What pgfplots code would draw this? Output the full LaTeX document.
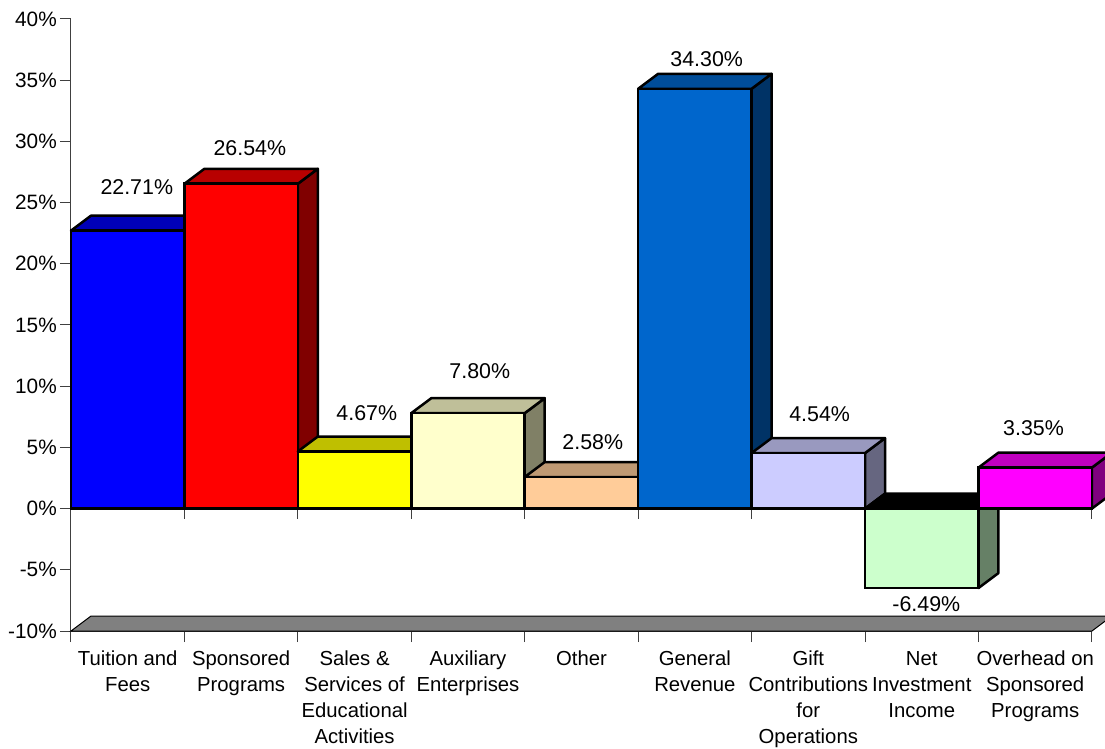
\documentclass[border=0pt]{standalone}
\usepackage{pgfplots}
\usepackage{fontspec}
\setmainfont{Liberation Sans}
\pgfplotsset{compat=1.18}
\definecolor{fl}{HTML}{808080}
\definecolor{aF}{HTML}{0000FF}\definecolor{aT}{HTML}{0000B8}\definecolor{aS}{HTML}{000080}
\definecolor{bF}{HTML}{FF0000}\definecolor{bT}{HTML}{B80000}\definecolor{bS}{HTML}{800000}
\definecolor{cF}{HTML}{FFFF00}\definecolor{cT}{HTML}{BFBF00}\definecolor{cS}{HTML}{808000}
\definecolor{dF}{HTML}{FFFFCC}\definecolor{dT}{HTML}{BFBF99}\definecolor{dS}{HTML}{808066}
\definecolor{eF}{HTML}{FFCC99}\definecolor{eT}{HTML}{BF9973}\definecolor{eS}{HTML}{80664D}
\definecolor{fF}{HTML}{0066CC}\definecolor{fT}{HTML}{004D99}\definecolor{fS}{HTML}{003366}
\definecolor{gF}{HTML}{CCCCFF}\definecolor{gT}{HTML}{9999BF}\definecolor{gS}{HTML}{666680}
\definecolor{hF}{HTML}{CCFFCC}\definecolor{hT}{HTML}{000000}\definecolor{hS}{HTML}{668066}
\definecolor{iF}{HTML}{FF00FF}\definecolor{iT}{HTML}{BF00BF}\definecolor{iS}{HTML}{800080}
% left edge, value, colour prefix
\newcommand{\threedbar}[3]{%
  \addplot[draw=black,line width=2.5pt,line join=round,fill=#3S,forget plot] coordinates {({#1+1},{max(#2,0)}) ({#1+1.176},{max(#2,0)+1.22}) ({#1+1.176},{min(#2,0)+1.22}) ({#1+1},{min(#2,0)})} --cycle;
  \addplot[draw=black,line width=2.5pt,line join=round,fill=#3T,forget plot] coordinates {(#1,{max(#2,0)}) ({#1+0.176},{max(#2,0)+1.22}) ({#1+1.176},{max(#2,0)+1.22}) ({#1+1},{max(#2,0)})} --cycle;
  \addplot[ybar,bar width=1,bar shift=0pt,draw=black,line width=2.5pt,fill=#3F,forget plot] coordinates {({#1+0.5},#2)};
}
\begin{document}
\begin{tikzpicture}
\path[use as bounding box] (-71pt,-118pt) rectangle (1034pt,631pt);
\begin{axis}[
  scale only axis,width=1021pt,height=612pt,
  xmin=0,xmax=9,ymin=-10,ymax=40,
  clip=false,
  axis y line*=left,axis x line*=bottom,
  axis line style={line width=1pt,draw=black!75},
  ytick={-10,-5,0,5,10,15,20,25,30,35,40},
  yticklabels={-10\%,-5\%,0\%,5\%,10\%,15\%,20\%,25\%,30\%,35\%,40\%},
  tick style={line width=1pt,draw=black!75},
  tick align=outside,
  major tick length=11pt,
  minor tick length=11pt,
  yticklabel style={inner sep=0pt,xshift=-3pt,font=\fontsize{20.8}{26}\selectfont},
  xtick={0.5,1.5,2.5,3.5,4.5,5.5,6.5,7.5,8.5},
  minor xtick={0,1,2,3,4,5,6,7,8,9},
  x tick style={draw=none},
  minor x tick style={line width=1pt,draw=black!75},
  xticklabels={{Tuition and\\Fees},{Sponsored\\Programs},{Sales \&\\Services of\\Educational\\Activities},{Auxiliary\\Enterprises},{Other},{General\\Revenue},{Gift\\Contributions\\for\\Operations},{Net\\Investment\\Income},{Overhead on\\Sponsored\\Programs}},
  xticklabel style={align=center,anchor=north,inner sep=0pt,yshift=-9pt,font=\fontsize{20.3}{26}\selectfont},
  unbounded coords=jump,
  nodes near coords style={font=\fontsize{21.4}{26}\selectfont},
]
% floor
\addplot[draw=black,line width=1pt,fill=fl,forget plot] coordinates {(0,-10) (0.176,-8.78) (9.176,-8.78) (9,-10)} --cycle;
% zero-line ticks
\addplot[draw=black!75,line width=1pt,forget plot] coordinates {(0,0) (0,-0.85) (nan,nan) (1,0) (1,-0.85) (nan,nan) (2,0) (2,-0.85) (nan,nan) (3,0) (3,-0.85) (nan,nan) (4,0) (4,-0.85) (nan,nan) (5,0) (5,-0.85) (nan,nan) (6,0) (6,-0.85) (nan,nan) (7,0) (7,-0.85) (nan,nan) (8,0) (8,-0.85) (nan,nan) (9,0) (9,-0.85)};
\threedbar{0}{22.71}{a}
\threedbar{1}{26.54}{b}
\threedbar{2}{4.67}{c}
\threedbar{3}{7.80}{d}
\threedbar{4}{2.58}{e}
\threedbar{5}{34.30}{f}
\threedbar{6}{4.54}{g}
\threedbar{7}{-6.49}{h}
\threedbar{8}{3.35}{i}
% value labels
\addplot[draw=none,mark=none,point meta=explicit symbolic,nodes near coords={\pgfplotspointmeta\%},
  every node near coord/.append style={anchor=center,inner sep=0pt,yshift=0pt},forget plot]
 table[meta=lab] {
x y lab
0.58 26.23 22.71
1.577 29.41 26.54
2.608 7.84 4.67
3.604 11.27 7.80
4.60 5.47 2.58
5.604 36.68 34.30
6.60 7.68 4.54
7.54 -7.84 -6.49
8.485 6.54 3.35
};
\end{axis}
\end{tikzpicture}
\end{document}
